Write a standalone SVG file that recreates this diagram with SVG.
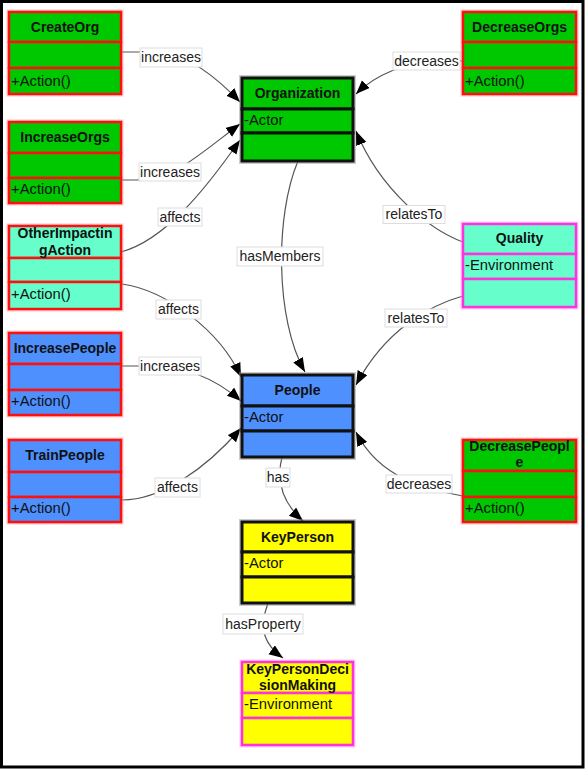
<svg xmlns="http://www.w3.org/2000/svg" width="585" height="769" viewBox="0 0 585 769">
<defs>
<marker id="ah" markerUnits="userSpaceOnUse" markerWidth="15" markerHeight="12" refX="14" refY="5.5" orient="auto">
<path d="M0,0 L14,5.5 L0,11 z" fill="#000"/>
</marker>
<style>
text{font-family:"Liberation Sans",Arial,sans-serif;fill:#111}
.hd{font-size:14px;font-weight:bold;text-anchor:middle}
.at{font-size:14.8px}
.lb{font-size:14px;text-anchor:middle;fill:#222}
.lbox{fill:#fff;stroke:#ddd;stroke-width:1}
.e{fill:none;stroke:#555;stroke-width:1.2;marker-end:url(#ah)}
.e0{fill:none;stroke:#555;stroke-width:1.2}
.red rect{stroke:#ff1010;stroke-width:2.5}
.blk rect{stroke:#111;stroke-width:3}
.mag rect{stroke:#ff33dd;stroke-width:2.5}
.red rect.halo{fill:none;stroke:#ff8080;stroke-width:5;opacity:.45}
.blk rect.halo{fill:none;stroke:#999;stroke-width:6;opacity:.5}
.mag rect.halo{fill:none;stroke:#ff99ee;stroke-width:5;opacity:.5}
.gr{fill:#00c800}
.bl{fill:#4d90fe}
.tl{fill:#66ffcc}
.yl{fill:#ffff00}
</style>
</defs>
<rect x="0" y="0" width="585" height="769" fill="#fff"/>
<rect x="1.5" y="1.5" width="581.5" height="765.5" fill="none" stroke="#000" stroke-width="3"/>

<g id="connectors">
<path class="e" d="M121,52 L165,52 Q200,60 240,102"/>
<path class="e" d="M121,180 L145,180 C175,178 205,150 240,124"/>
<path class="e" d="M121,252 C165,240 205,190 240,140"/>
<path class="e" d="M298,161 C275,215 275,320 305,372"/>
<path class="e" d="M463,242 C430,230 380,190 356,131"/>
<path class="e" d="M463,296 C430,305 385,330 356,385"/>
<path class="e" d="M122,284 C165,290 220,330 241,377"/>
<path class="e" d="M122,366 L150,366 C185,366 215,378 241,401"/>
<path class="e" d="M122,500 C160,500 205,470 241,428"/>
<path class="e" d="M463,496 C430,490 380,480 356,432"/>
<path class="e" d="M282,457 C275,485 285,505 303,521"/>
<path class="e" d="M268,603 C258,630 265,645 283,658"/>
<path class="e" d="M463,61 L440,61 C405,62 375,75 356,94"/>
<g id="labels">
<rect class="lbox" x="140" y="48" width="62" height="19"/><text class="lb" x="171" y="62">increases</text>
<rect class="lbox" x="139" y="163" width="62" height="18"/><text class="lb" x="170" y="177">increases</text>
<rect class="lbox" x="393" y="52" width="67" height="18"/><text class="lb" x="426.5" y="66">decreases</text>
<rect class="lbox" x="158" y="208" width="44" height="18"/><text class="lb" x="180" y="222">affects</text>
<rect class="lbox" x="237" y="247" width="86" height="19"/><text class="lb" x="280" y="261">hasMembers</text>
<rect class="lbox" x="383" y="205.5" width="62" height="18"/><text class="lb" x="414" y="219">relatesTo</text>
<rect class="lbox" x="385" y="309" width="62" height="18"/><text class="lb" x="416" y="323">relatesTo</text>
<rect class="lbox" x="156" y="300" width="45" height="19"/><text class="lb" x="178.5" y="314">affects</text>
<rect class="lbox" x="139" y="357" width="62" height="18"/><text class="lb" x="170" y="371">increases</text>
<rect class="lbox" x="155" y="478" width="45" height="19"/><text class="lb" x="177.5" y="492">affects</text>
<rect class="lbox" x="266" y="468" width="24" height="19"/><text class="lb" x="278" y="482">has</text>
<rect class="lbox" x="386" y="475" width="66" height="18"/><text class="lb" x="419" y="489">decreases</text>
<rect class="lbox" x="223" y="614" width="80" height="20"/><text class="lb" x="263" y="629">hasProperty</text>
</g>
</g>

<g id="CreateOrg" class="red">
<rect class="halo" x="9" y="12" width="112" height="82"/>
<rect class="gr" x="9" y="12" width="112" height="30"/>
<rect class="gr" x="9" y="42" width="112" height="26"/>
<rect class="gr" x="9" y="68" width="112" height="26"/>
<text class="hd" x="65" y="32">CreateOrg</text>
<text class="at" x="11" y="86">+Action()</text>
</g>

<g id="IncreaseOrgs" class="red">
<rect class="halo" x="9" y="122" width="112" height="81"/>
<rect class="gr" x="9" y="122" width="112" height="31"/>
<rect class="gr" x="9" y="153" width="112" height="25"/>
<rect class="gr" x="9" y="178" width="112" height="25"/>
<text class="hd" x="65" y="142">IncreaseOrgs</text>
<text class="at" x="11" y="194">+Action()</text>
</g>

<g id="DecreaseOrgs" class="red">
<rect class="halo" x="463" y="12" width="113" height="82"/>
<rect class="gr" x="463" y="12" width="113" height="30"/>
<rect class="gr" x="463" y="42" width="113" height="26"/>
<rect class="gr" x="463" y="68" width="113" height="26"/>
<text class="hd" x="519.5" y="32">DecreaseOrgs</text>
<text class="at" x="465" y="86">+Action()</text>
</g>

<g id="Organization" class="blk">
<rect class="halo" x="242" y="78" width="111" height="83"/>
<rect class="gr" x="242" y="78" width="111" height="31"/>
<rect class="gr" x="242" y="109" width="111" height="24"/>
<rect class="gr" x="242" y="133" width="111" height="28"/>
<text class="hd" x="297.5" y="98">Organization</text>
<text class="at" x="244" y="125">-Actor</text>
</g>

<g id="OtherImpactingAction" class="red">
<rect class="halo" x="9" y="226" width="112" height="83"/>
<rect class="tl" x="9" y="226" width="112" height="32"/>
<rect class="tl" x="9" y="258" width="112" height="24"/>
<rect class="tl" x="9" y="282" width="112" height="27"/>
<text class="hd" x="65" y="238">OtherImpactin</text>
<text class="hd" x="65" y="255">gAction</text>
<text class="at" x="11" y="299">+Action()</text>
</g>

<g id="Quality" class="mag">
<rect class="halo" x="463" y="224" width="113" height="83"/>
<rect class="tl" x="463" y="224" width="113" height="30"/>
<rect class="tl" x="463" y="254" width="113" height="25"/>
<rect class="tl" x="463" y="279" width="113" height="28"/>
<text class="hd" x="519.5" y="243">Quality</text>
<text class="at" x="465" y="270">-Environment</text>
</g>

<g id="IncreasePeople" class="red">
<rect class="halo" x="9" y="333" width="112" height="82"/>
<rect class="bl" x="9" y="333" width="112" height="31"/>
<rect class="bl" x="9" y="364" width="112" height="26"/>
<rect class="bl" x="9" y="390" width="112" height="25"/>
<text class="hd" x="65" y="353">IncreasePeople</text>
<text class="at" x="11" y="406">+Action()</text>
</g>

<g id="People" class="blk">
<rect class="halo" x="242" y="375" width="111" height="82"/>
<rect class="bl" x="242" y="375" width="111" height="31"/>
<rect class="bl" x="242" y="406" width="111" height="25"/>
<rect class="bl" x="242" y="431" width="111" height="26"/>
<text class="hd" x="297.5" y="395">People</text>
<text class="at" x="244" y="422">-Actor</text>
</g>

<g id="TrainPeople" class="red">
<rect class="halo" x="9" y="440" width="112" height="82"/>
<rect class="bl" x="9" y="440" width="112" height="32"/>
<rect class="bl" x="9" y="472" width="112" height="25"/>
<rect class="bl" x="9" y="497" width="112" height="25"/>
<text class="hd" x="65" y="460">TrainPeople</text>
<text class="at" x="11" y="513">+Action()</text>
</g>

<g id="DecreasePeople" class="red">
<rect class="halo" x="463" y="440" width="113" height="82"/>
<rect class="gr" x="463" y="440" width="113" height="31"/>
<rect class="gr" x="463" y="471" width="113" height="26"/>
<rect class="gr" x="463" y="497" width="113" height="25"/>
<text class="hd" x="519.5" y="451">DecreasePeopl</text>
<text class="hd" x="519.5" y="467">e</text>
<text class="at" x="465" y="513">+Action()</text>
</g>

<g id="KeyPerson" class="blk">
<rect class="halo" x="242" y="522" width="111" height="81"/>
<rect class="yl" x="242" y="522" width="111" height="30"/>
<rect class="yl" x="242" y="552" width="111" height="25"/>
<rect class="yl" x="242" y="577" width="111" height="26"/>
<text class="hd" x="297.5" y="542">KeyPerson</text>
<text class="at" x="244" y="568">-Actor</text>
</g>

<g id="KeyPersonDecisionMaking" class="mag">
<rect class="halo" x="242" y="662" width="111" height="83"/>
<rect class="yl" x="242" y="662" width="111" height="31"/>
<rect class="yl" x="242" y="693" width="111" height="25"/>
<rect class="yl" x="242" y="718" width="111" height="27"/>
<text class="hd" x="297.5" y="674">KeyPersonDeci</text>
<text class="hd" x="297.5" y="690">sionMaking</text>
<text class="at" x="244" y="709">-Environment</text>
</g>
</svg>
